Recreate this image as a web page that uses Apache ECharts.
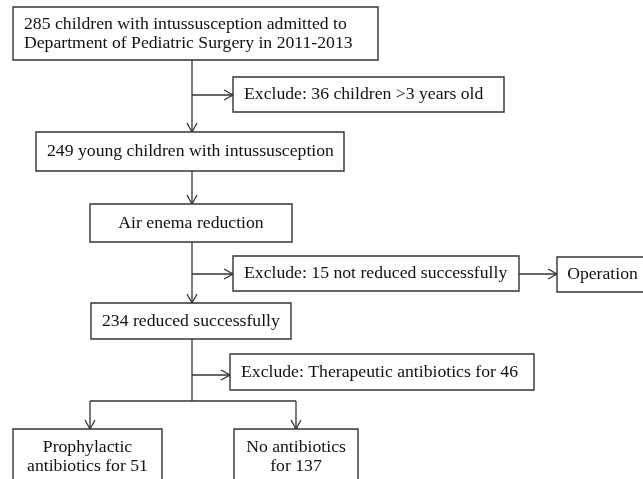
<!DOCTYPE html>
<html>
<head>
<meta charset="utf-8">
<script src="https://cdn.jsdelivr.net/npm/echarts@6/dist/echarts.min.js"></script>
<style>
  html, body { margin: 0; padding: 0; background: #fff; }
  #chart { width: 643px; height: 479px; }
</style>
</head>
<body>
<div id="chart"></div>
<script>
// flow boxes: [left, top, right, bottom] in picture units
const boxes = [
  [13, 7, 378, 60],
  [233, 77, 504, 112],
  [36, 132, 344, 171],
  [90, 204, 292, 242],
  [233, 256, 519, 291],
  [557, 257, 648, 292],
  [91, 303, 291, 339],
  [230, 354, 534, 390],
  [13, 429, 162, 484],
  [234, 429, 358, 484],
];
const labels = [
  "285 children with intussusception admitted to\nDepartment of Pediatric Surgery in 2011-2013",
  "Exclude: 36 children >3 years old",
  "249 young children with intussusception",
  "Air enema reduction",
  "Exclude: 15 not reduced successfully",
  "Operation",
  "234 reduced successfully",
  "Exclude: Therapeutic antibiotics for 46",
  "Prophylactic\nantibiotics for 51",
  "No antibiotics\nfor 137",
];
// connectors: [x1, y1, x2, y2, arrow (1/0)]
const connectors = [
  [192, 60, 192, 132, 1],
  [192, 95, 233, 95, 1],
  [192, 171, 192, 204, 1],
  [192, 242, 192, 303, 1],
  [192, 274, 233, 274, 1],
  [519, 274, 557, 274, 1],
  [192, 339, 192, 401, 0],
  [192, 375, 230, 375, 1],
  [90, 401, 296, 401, 0],
  [90, 401, 90, 429, 1],
  [296, 401, 296, 429, 1],
];

const centered = [3, 5, 8, 9];
const lineColor = "#333";
const font = '17.7px "Liberation Serif", "Times New Roman", serif';

var chart = echarts.init(document.getElementById("chart"));

function renderBox(params, api) {
  let p1 = api.coord([api.value(0), api.value(1)]);
  let p2 = api.coord([api.value(2), api.value(3)]);
  let i = params.dataIndex;
  let isCenter = centered.indexOf(i) >= 0;
  return {
    type: "group",
    children: [
      {
        type: "rect",
        shape: { x: p1[0], y: p1[1], width: p2[0] - p1[0], height: p2[1] - p1[1] },
        style: { fill: "#fff", stroke: lineColor, lineWidth: 1.4 },
      },
      {
        type: "text",
        style: {
          text: labels[i],
          x: isCenter ? (p1[0] + p2[0]) / 2 : p1[0] + 11,
          y: (p1[1] + p2[1]) / 2,
          align: isCenter ? "center" : "left",
          verticalAlign: "middle",
          font: font,
          lineHeight: 19,
          fill: "#111",
        },
      },
    ],
  };
}

function renderConnector(params, api) {
  let a = api.coord([api.value(0), api.value(1)]);
  let b = api.coord([api.value(2), api.value(3)]);
  let children = [
    {
      type: "line",
      shape: { x1: a[0], y1: a[1], x2: b[0], y2: b[1] },
      style: { stroke: lineColor, lineWidth: 1.3 },
    },
  ];
  if (api.value(4)) {
    let dx = b[0] - a[0];
    let dy = b[1] - a[1];
    let len = Math.sqrt(dx * dx + dy * dy);
    let ux = dx / len, uy = dy / len;
    let hl = 9, hw = 5;
    children.push({
      type: "polyline",
      shape: {
        points: [
          [b[0] - ux * hl - uy * hw, b[1] - uy * hl + ux * hw],
          [b[0], b[1]],
          [b[0] - ux * hl + uy * hw, b[1] - uy * hl - ux * hw],
        ],
      },
      style: { stroke: lineColor, lineWidth: 1.3, fill: null },
    });
  }
  return { type: "group", children: children };
}

let option = {
  animation: false,
  backgroundColor: "#fff",
  grid: { left: 0, right: 0, top: 0, bottom: 0 },
  xAxis: { type: "value", min: 0, max: 643, show: false },
  yAxis: { type: "value", min: 0, max: 479, inverse: true, show: false },
  series: [
    {
      type: "custom",
      renderItem: renderConnector,
      data: connectors,
      z: 1,
    },
    {
      type: "custom",
      renderItem: renderBox,
      data: boxes,
      z: 2,
    },
  ],
};
chart.setOption(option);
</script>
</body>
</html>
